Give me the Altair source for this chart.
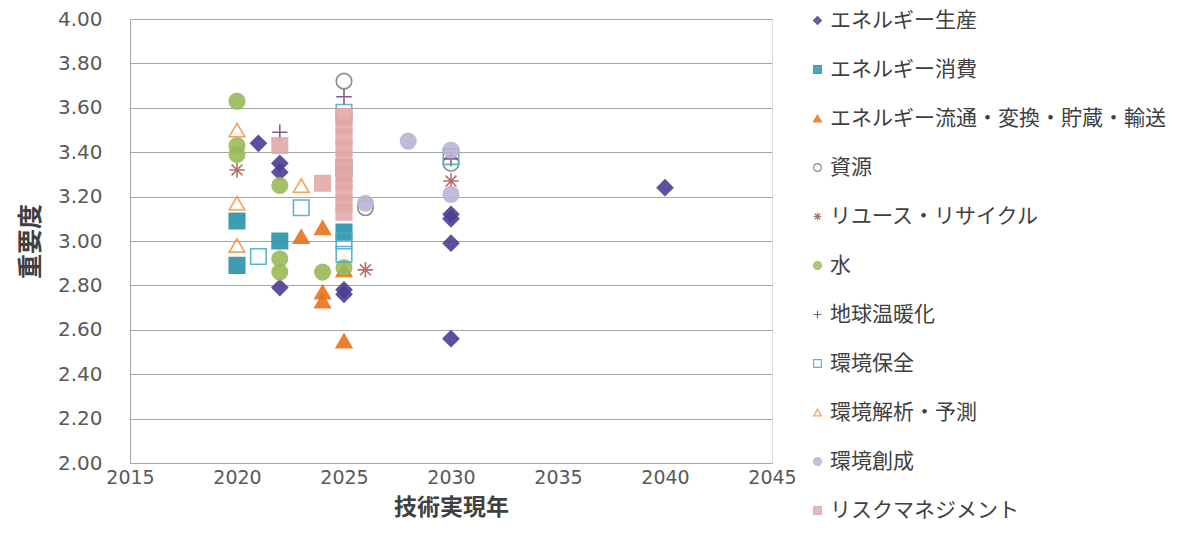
import altair as alt
import pandas as pd

# ---- data ----
series = [
    "エネルギー生産", "エネルギー消費", "エネルギー流通・変換・貯蔵・輸送", "資源",
    "リユース・リサイクル", "水", "地球温暖化", "環境保全", "環境解析・予測",
    "環境創成", "リスクマネジメント",
]

energy_prod_x = [2021, 2022, 2022, 2022, 2025, 2025, 2030, 2030, 2030, 2030, 2040]
energy_prod_y = [3.44, 3.35, 3.31, 2.79, 2.78, 2.76, 3.12, 3.10, 2.99, 2.56, 3.24]

energy_cons_x = [2020, 2020, 2022, 2025, 2025]
energy_cons_y = [3.09, 2.89, 3.00, 3.33, 3.04]

energy_dist_x = [2023, 2024, 2024, 2024, 2025, 2025, 2025]
energy_dist_y = [3.02, 3.06, 2.77, 2.73, 3.30, 2.87, 2.55]

resources_x = [2025, 2026, 2030]
resources_y = [3.72, 3.15, 3.35]

reuse_x = [2020, 2026, 2030]
reuse_y = [3.32, 2.87, 3.27]

water_x = [2020, 2020, 2020, 2022, 2022, 2022, 2024, 2025, 2025]
water_y = [3.63, 3.43, 3.39, 3.25, 2.92, 2.86, 2.86, 3.33, 2.88]

warming_x = [2022, 2025, 2030]
warming_y = [3.49, 3.65, 3.37]

conservation_x = [2021, 2023, 2025, 2025, 2025, 2030]
conservation_y = [2.93, 3.15, 3.58, 3.00, 2.94, 3.38]

analysis_x = [2020, 2020, 2020, 2023, 2025]
analysis_y = [3.50, 3.17, 2.98, 3.25, 3.27]

creation_x = [2028, 2030, 2030, 2026]
creation_y = [3.45, 3.41, 3.21, 3.17]

risk_x = [2022, 2024, 2025, 2025, 2025, 2025, 2025, 2025, 2025, 2025, 2025, 2025]
risk_y = [3.43, 3.26, 3.56, 3.52, 3.47, 3.42, 3.37, 3.32, 3.27, 3.22, 3.17, 3.13]

all_x = [energy_prod_x, energy_cons_x, energy_dist_x, resources_x, reuse_x, water_x,
         warming_x, conservation_x, analysis_x, creation_x, risk_x]
all_y = [energy_prod_y, energy_cons_y, energy_dist_y, resources_y, reuse_y, water_y,
         warming_y, conservation_y, analysis_y, creation_y, risk_y]

rows = []
for i, (name, xs, ys) in enumerate(zip(series, all_x, all_y)):
    for x, y in zip(xs, ys):
        rows.append({"series": name, "year": x, "value": y, "idx": i})
df = pd.DataFrame(rows)

# ---- styles ----
ASTER = "M-1,0L1,0M0,-1L0,1M-0.7,-0.7L0.7,0.7M-0.7,0.7L0.7,-0.7"
PLUS = "M-1,0L1,0M0,-1L0,1"
shapes = ["diamond", "square", "triangle-up", "circle", ASTER, "circle",
          PLUS, "square", "triangle-up", "circle", "square"]
strokes = ["#4B3F94", "#2A93A8", "#E8731A", "#808080", "#B0605A", "#9BBB59",
           "#7A4D7E", "#4BACC6", "#F79646", "#BDB2D4", "#E3A9A9"]
fills = ["#4B3F94", "#2A93A8", "#E8731A", "transparent", "transparent", "#9BBB59",
         "transparent", "transparent", "transparent", "#BDB2D4", "#E3A9A9"]

FONT = "Noto Sans CJK JP"

chart = alt.Chart(df).mark_point(size=240, strokeWidth=1.6, opacity=0.9).encode(
    x=alt.X("year:Q", scale=alt.Scale(domain=[2015, 2045], nice=False, zero=False),
            axis=alt.Axis(values=[2015, 2020, 2025, 2030, 2035, 2040, 2045], format="d",
                          title="技術実現年", grid=False, ticks=False,
                          labelFontSize=19, labelColor="#595959", labelFont="DejaVu Sans",
                          labelPadding=5, titleFontSize=23, titleFont=FONT,
                          titleFontWeight="bold", titleColor="#404040", titlePadding=9,
                          domainColor="#A6A6A6", labelFlush=False)),
    y=alt.Y("value:Q", scale=alt.Scale(domain=[2.0, 4.0], nice=False, zero=False),
            axis=alt.Axis(values=[2.0, 2.2, 2.4, 2.6, 2.8, 3.0, 3.2, 3.4, 3.6, 3.8, 4.0],
                          format=".2f", title="重要度", ticks=False,
                          labelFontSize=20, labelColor="#595959", labelFont="DejaVu Sans",
                          labelPadding=28, titleFontSize=25, titleFont=FONT,
                          titleFontWeight="bold", titleColor="#404040", titlePadding=14,
                          gridColor="#A6A6A6", domainColor="#A6A6A6")),
    shape=alt.Shape("series:N", scale=alt.Scale(domain=series, range=shapes),
                    legend=alt.Legend(orient="none", legendX=677, legendY=-9, title=None,
                                      labelFontSize=21, labelFont=FONT, labelColor="#404040",
                                      symbolSize=60, rowPadding=27, labelOffset=2,
                                      padding=0, symbolStrokeWidth=1.2, labelLimit=400)),
    stroke=alt.Stroke("series:N", scale=alt.Scale(domain=series, range=strokes)),
    fill=alt.Fill("series:N", scale=alt.Scale(domain=series, range=fills)),
    order=alt.Order("idx:Q"),
).properties(
    width=642, height=444,
    padding={"left": 130, "top": 19, "right": 410, "bottom": 76},
    autosize=alt.AutoSizeParams(type="none"),
).configure_view(stroke=None).configure(background="white")

chart.save("out.html", embed_options={"renderer": "svg", "actions": False})
